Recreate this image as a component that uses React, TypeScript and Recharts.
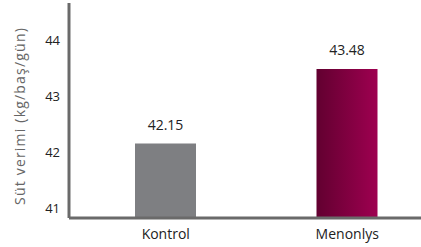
import React from 'react';
import { BarChart, Bar, XAxis, YAxis, Cell, LabelList } from 'recharts';

const categories = ['Kontrol', 'Menonlys'];
const values = [42.15, 43.48];
const yTicks = [41, 42, 43, 44];
const yLabel = 'Süt verimi (kg/baş/gün)';

const data = categories.map((name, i) => ({ name, value: values[i] }));
const FONT = '"Open Sans", Lato, sans-serif';

export default function App() {
  return (
    <div style={{ position: 'absolute', left: 0, top: 0, width: 421, height: 247, overflow: 'hidden', background: '#fff' }}>
      <BarChart width={438} height={247} data={data} margin={{ top: 3, right: 0, bottom: 0, left: 0 }}>
        <defs>
          <linearGradient id="menGrad" x1="0" y1="0" x2="1" y2="0">
            <stop offset="0%" stopColor="#620030" />
            <stop offset="100%" stopColor="#9e0050" />
          </linearGradient>
        </defs>
        <XAxis
          dataKey="name"
          height={29}
          padding={{ left: 6, right: 0 }}
          axisLine={{ stroke: '#6a6a6a', strokeWidth: 3 }}
          tickLine={false}
          tickSize={0}
          tickMargin={11}
          tick={{ fill: '#222', fontSize: 14, fontFamily: FONT }}
        />
        <YAxis
          width={69}
          domain={[40.82, 44.66]}
          ticks={yTicks}
          allowDataOverflow
          axisLine={{ stroke: '#6a6a6a', strokeWidth: 3 }}
          tickLine={false}
          tickSize={0}
          tickMargin={9}
          tick={{ fill: '#222', fontSize: 13, fontFamily: FONT }}
          label={{
            value: yLabel,
            content: () => {
              const cx = 19;
              const cy = 116;
              return (
                <text
                  x={cx}
                  y={cy}
                  transform={`rotate(-90 ${cx} ${cy})`}
                  textAnchor="middle"
                  dominantBaseline="central"
                  fill="#666"
                  fontSize={14}
                  letterSpacing={1.2}
                  fontFamily={FONT}
                >
                  {yLabel}
                </text>
              );
            },
          }}
        />
        <Bar dataKey="value" barSize={61} isAnimationActive={false}>
          {data.map((d, i) => (
            <Cell key={d.name} fill={i === 0 ? '#7e7f82' : 'url(#menGrad)'} />
          ))}
          <LabelList
            dataKey="value"
            position="top"
            offset={14}
            fill="#222"
            fontSize={14}
            fontFamily={FONT}
            formatter={(v: any) => Number(v).toFixed(2)}
          />
        </Bar>
      </BarChart>
    </div>
  );
}
